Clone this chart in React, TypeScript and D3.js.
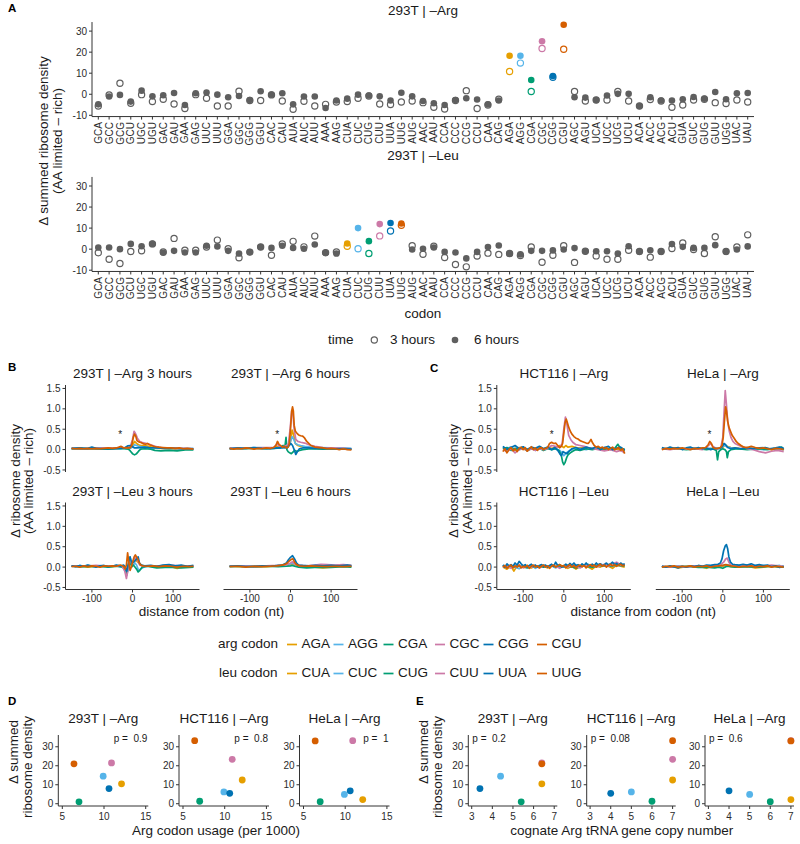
import React from "react";
import * as d3 from "d3";

// ---------------- DATA ----------------
const codons = ["GCA","GCC","GCG","GCU","UGC","UGU","GAC","GAU","GAA","GAG","UUC","UUU","GGA","GGC","GGG","GGU","CAC","CAU","AUA","AUC","AUU","AAA","AAG","CUA","CUC","CUG","CUU","UUA","UUG","AUG","AAC","AAU","CCA","CCC","CCG","CCU","CAA","CAG","AGA","AGG","CGA","CGC","CGG","CGU","AGC","AGU","UCA","UCC","UCG","UCU","ACA","ACC","ACG","ACU","GUA","GUC","GUG","GUU","UGG","UAC","UAU"];
const argCodons = ["AGA","AGG","CGA","CGC","CGG","CGU"];
const leuCodons = ["CUA","CUC","CUG","CUU","UUA","UUG"];
const codonColors = ["#E69F00","#56B4E9","#009E73","#CC79A7","#0072B2","#D55E00"];
const timeLabels = ["3 hours","6 hours"];

// panel A: summed density change per codon (293T)
const argStarv3h = [-5.6,-0.3,5.2,-4.3,-0.2,-3.5,-2.4,-4.6,-6.8,-0.2,-1.9,-5.6,-5.6,1.4,-3.0,-3.0,-0.3,-3.2,-7.1,-3.3,-5.6,-4.8,-3.7,-3.5,-1.9,-0.8,-4.6,-4.9,-3.7,-3.2,-4.0,-6.2,-7.0,-3.0,1.7,-6.8,-5.1,-2.4,10.8,14.8,1.3,21.7,8.1,21.4,1.3,-3.2,-2.7,-2.7,1.3,-3.2,-5.6,-2.5,-3.2,-6.2,-5.1,-2.7,-2.4,-4.0,-4.4,-2.7,-3.7];
const argStarv6h = [-4.8,-1.1,-0.3,-3.5,1.7,-1.0,-0.5,0.6,-5.1,0.5,0.8,-0.2,-1.4,-0.8,-2.7,1.4,-0.2,0.5,-4.8,-1.1,-1.1,-6.5,-3.0,-2.1,-0.2,-0.6,-1.0,-3.0,0.7,-1.0,-3.2,-4.3,-5.1,-2.7,-1.9,-2.5,-4.8,-3.0,18.3,18.3,6.8,25.2,8.7,33.0,-1.4,-1.6,-2.7,-0.6,0.2,0.2,-5.6,-1.4,-3.0,-3.0,-2.4,-1.3,-2.1,1.1,-2.4,0.5,0.6];
const leuStarv3h = [-1.7,-4.8,-6.8,-1.1,-0.8,2.5,-1.3,5.1,-0.5,-0.5,1.0,4.3,0.2,-4.1,-1.4,1.0,-2.9,2.5,3.7,1.1,6.2,-1.7,-1.3,1.4,0.2,-2.1,6.3,8.6,11.3,1.6,-2.4,1.4,-4.0,-7.3,-8.4,-3.3,-1.9,-2.5,-2.1,-3.0,1.0,-6.2,-2.9,1.6,-6.3,-1.0,-3.2,-4.8,-4.8,-0.5,-1.1,-3.8,-1.1,0.3,2.9,-0.2,-2.1,5.9,-1.1,1.0,6.8];
const leuStarv6h = [0.8,0.8,0.0,2.5,1.4,2.5,-1.7,-0.8,-1.6,-1.6,1.6,1.3,-0.8,-2.1,-1.4,1.0,0.6,1.6,0.6,0.2,2.2,-1.7,-2.1,2.7,10.0,3.8,11.9,12.4,12.2,-0.2,0.2,0.8,-1.3,-1.6,-4.4,-1.3,1.0,1.7,-2.1,-2.5,-0.8,-0.8,-0.6,-0.2,0.5,-1.0,-1.0,-1.0,-2.1,1.4,-1.1,-0.5,-1.1,2.4,1.1,0.6,0.6,1.9,-1.1,-0.2,1.3];

// panels B/C: ribosome density profiles, [distance nt, delta density], one list per codon (in codon order)
const prof293T_Arg3h = [
  [[-150,.02],[-130,.03],[-110,.02],[-90,.03],[-70,.02],[-50,.03],[-35,.04],[-25,.05],[-15,.03],[-5,.05],[0,.1],[5,.2],[10,.15],[15,.12],[20,.1],[30,.1],[40,.08],[50,.05],[70,.03],[90,.02],[110,.03],[130,.02],[150,.01]],
  [[-150,.03],[-120,.02],[-90,.04],[-60,.03],[-40,.03],[-20,.03],[-5,.03],[0,.06],[5,.12],[10,.1],[15,.08],[25,.07],[40,.05],[60,.04],[80,.03],[100,.04],[120,.03],[150,.03]],
  [[-150,.02],[-120,.01],[-90,.02],[-60,.01],[-40,.02],[-20,.02],[-10,.01],[-5,-.04],[0,-.1],[5,-.13],[10,-.1],[15,-.04],[20,.01],[30,.02],[45,.01],[55,-.02],[70,-.03],[90,-.02],[110,-.03],[130,-.01],[150,-.01]],
  [[-150,.03],[-120,.02],[-90,.03],[-60,.04],[-40,.03],[-30,.06],[-20,.04],[-10,.05],[-5,.08],[0,.25],[4,.45],[8,.38],[12,.28],[18,.2],[25,.17],[35,.15],[45,.12],[55,.08],[70,.05],[90,.04],[110,.03],[130,.03],[150,.02]],
  [[-150,.03],[-130,.04],[-110,.03],[-100,.06],[-90,.03],[-70,.02],[-50,.02],[-30,.03],[-20,.04],[-12,.09],[-5,.1],[0,.07],[5,.04],[10,.04],[20,.05],[30,.06],[40,.05],[60,.04],[80,.03],[100,.03],[120,.02],[140,.02],[150,.01]],
  [[-150,.03],[-140,.02],[-130,.03],[-120,.02],[-110,.03],[-100,.02],[-90,.03],[-80,.02],[-70,.03],[-60,.04],[-50,.03],[-40,.04],[-33,.06],[-28,.08],[-24,.05],[-18,.04],[-12,.05],[-6,.04],[-2,.1],[2,.3],[5,.38],[8,.33],[11,.22],[14,.2],[18,.18],[22,.17],[27,.14],[32,.13],[37,.15],[42,.12],[47,.1],[52,.08],[58,.07],[65,.06],[75,.05],[85,.04],[95,.04],[105,.03],[115,.04],[125,.02],[135,.03],[150,.01]],
];
const prof293T_Arg6h = [
  [[-150,.03],[-120,.02],[-90,.04],[-60,.03],[-40,.05],[-30,.08],[-20,.05],[-10,.08],[-5,.1],[0,.2],[4,.48],[8,.35],[12,.15],[18,.1],[25,.08],[35,.06],[50,.04],[70,.03],[100,.02],[130,.02],[150,.01]],
  [[-150,.04],[-120,.03],[-90,.05],[-60,.04],[-40,.04],[-20,.05],[-10,.06],[-5,.1],[0,.2],[4,.32],[8,.25],[12,.15],[18,.12],[25,.1],[35,.08],[50,.06],[70,.05],[100,.04],[130,.04],[150,.03]],
  [[-150,.02],[-120,.02],[-90,.03],[-60,.02],[-40,.03],[-25,.04],[-18,.1],[-14,.05],[-11,.3],[-9,.0],[-6,-.05],[-2,-.08],[2,-.1],[6,-.06],[10,-.02],[15,-.04],[20,-.03],[30,.0],[50,.02],[80,.01],[110,.02],[150,.01]],
  [[-150,.03],[-120,.03],[-90,.04],[-60,.05],[-40,.05],[-33,.15],[-28,.08],[-20,.06],[-10,.1],[-5,.15],[-1,.5],[3,.95],[6,.9],[9,.5],[13,.25],[18,.2],[25,.18],[35,.16],[45,.12],[60,.08],[80,.05],[100,.04],[130,.03],[150,.02]],
  [[-150,.02],[-130,.04],[-110,.03],[-90,.05],[-70,.03],[-50,.02],[-30,.04],[-15,.05],[-8,.05],[-3,.1],[1,.15],[5,.1],[9,.0],[13,-.12],[17,-.05],[22,.02],[30,.04],[45,.04],[60,.03],[80,.03],[100,.02],[120,.02],[150,.01]],
  [[-150,.03],[-140,.01],[-130,.03],[-120,.02],[-110,.04],[-100,.03],[-90,.01],[-80,.03],[-70,.02],[-60,.04],[-50,.03],[-42,.05],[-36,.1],[-32,.2],[-28,.12],[-24,.1],[-20,.06],[-15,.08],[-10,.04],[-6,.06],[-3,.15],[0,.5],[3,.95],[5,1.05],[7,.95],[9,.6],[12,.45],[16,.4],[20,.36],[25,.34],[30,.33],[35,.28],[40,.2],[45,.15],[50,.1],[55,.08],[60,.06],[70,.05],[80,.04],[90,.02],[100,.03],[110,.02],[120,.0],[130,.02],[140,.0],[150,-.01]],
];
const prof293T_Leu3h = [
  [[-150,.02],[-130,.03],[-110,.0],[-90,.02],[-70,.03],[-50,.01],[-35,.03],[-25,.02],[-18,-.05],[-14,-.1],[-10,.05],[-6,.2],[-2,.05],[2,.15],[6,.2],[10,.15],[15,.1],[20,.05],[30,.02],[50,.03],[70,.0],[90,.02],[110,-.03],[130,.02],[150,.0]],
  [[-150,.03],[-130,.0],[-110,.04],[-90,.02],[-70,.03],[-50,.02],[-35,.04],[-25,.02],[-18,-.1],[-14,-.2],[-10,.0],[-6,.25],[-2,.05],[2,.05],[6,.1],[10,.05],[15,-.08],[20,-.05],[28,.0],[40,.03],[60,.02],[80,.04],[100,.02],[120,.03],[150,.02]],
  [[-150,.02],[-120,.01],[-90,.02],[-60,.0],[-40,.02],[-25,.0],[-18,-.05],[-14,-.15],[-10,.0],[-6,.15],[-2,.0],[2,.05],[6,.0],[10,-.05],[14,-.12],[18,-.08],[24,.0],[35,.02],[60,-.02],[90,.0],[120,-.02],[150,.0]],
  [[-150,.03],[-120,.02],[-90,.04],[-60,.02],[-40,.03],[-25,.02],[-19,-.1],[-15,-.28],[-11,-.05],[-7,.2],[-3,.1],[1,.1],[5,.2],[9,.25],[13,.15],[18,.05],[25,.02],[40,.03],[70,.02],[100,.04],[130,.02],[150,.03]],
  [[-150,.03],[-140,.01],[-130,.04],[-120,.02],[-110,.05],[-100,.02],[-90,.0],[-80,.03],[-70,.04],[-60,.01],[-50,.02],[-40,.05],[-30,.02],[-22,.05],[-18,.0],[-14,-.1],[-10,.1],[-6,.25],[-2,.1],[2,.12],[6,.15],[10,.2],[14,.25],[17,.1],[22,.05],[30,.03],[45,.04],[60,.02],[75,.05],[90,.06],[105,.03],[120,.05],[135,.02],[150,.04]],
  [[-150,.01],[-140,.02],[-130,.0],[-120,.03],[-110,.01],[-100,.03],[-90,.02],[-80,.0],[-70,.03],[-60,.02],[-50,.03],[-40,.02],[-30,.05],[-22,.02],[-18,-.05],[-15,.05],[-12,.35],[-9,.1],[-6,-.08],[-3,.0],[1,.15],[4,.25],[7,.3],[10,.25],[13,.2],[16,.12],[20,.05],[25,.03],[35,.02],[50,.03],[65,.01],[80,.03],[95,.02],[110,.0],[125,.02],[140,.01],[150,.02]],
];
const prof293T_Leu6h = [
  [[-150,.02],[-120,.01],[-90,.02],[-60,.01],[-30,.03],[-10,.04],[0,.06],[5,.08],[10,.05],[20,.03],[40,.02],[60,.0],[80,-.02],[100,.0],[120,.02],[150,.01]],
  [[-150,.03],[-120,.02],[-90,.02],[-60,.03],[-30,.03],[-10,.05],[0,.08],[5,.1],[10,.07],[20,.03],[40,.02],[70,.04],[100,.03],[130,.05],[150,.04]],
  [[-150,.01],[-120,.02],[-90,.0],[-60,.02],[-30,.01],[-10,.02],[0,.03],[5,.04],[10,.02],[20,.0],[40,-.02],[70,.0],[100,-.01],[130,.01],[150,.0]],
  [[-150,.02],[-120,.03],[-90,.01],[-60,.03],[-30,.04],[-10,.06],[0,.1],[5,.13],[10,.08],[20,.04],[40,.03],[60,.05],[75,.07],[90,.06],[110,.05],[130,.06],[150,.04]],
  [[-150,.02],[-130,.03],[-110,.01],[-90,.02],[-70,.03],[-50,.02],[-30,.04],[-20,.05],[-10,.1],[-5,.18],[0,.24],[5,.28],[10,.2],[15,.1],[20,.05],[30,.04],[45,.03],[60,.04],[80,.03],[100,.04],[120,.03],[140,.05],[150,.03]],
  [[-150,.01],[-130,.02],[-110,.0],[-90,.02],[-70,.01],[-50,.02],[-35,.03],[-25,.04],[-15,.06],[-8,.1],[-3,.15],[2,.19],[6,.2],[10,.12],[15,.06],[22,.03],[35,.02],[50,.03],[70,.02],[90,.01],[110,.02],[130,.01],[150,.02]],
];
const profHCT116_Arg = [
  [[-150,.05],[-140,.0],[-130,.03],[-120,-.02],[-110,.05],[-100,.02],[-90,-.02],[-80,.03],[-70,.0],[-60,.04],[-50,.02],[-40,.05],[-30,.03],[-20,.05],[-10,.1],[-5,.08],[0,.05],[5,.1],[10,.06],[20,.08],[30,.05],[45,.04],[60,.03],[75,.02],[90,.04],[105,.0],[120,.03],[135,.0],[150,-.02]],
  [[-150,.06],[-140,.02],[-130,.07],[-120,.0],[-110,.04],[-100,.06],[-90,.01],[-80,.05],[-70,-.02],[-60,.04],[-50,.02],[-40,.05],[-30,.0],[-20,.03],[-10,-.02],[-5,-.08],[0,-.15],[5,-.1],[10,-.05],[15,-.02],[25,.02],[40,.03],[55,.0],[70,.04],[85,.02],[100,.05],[115,.0],[130,.04],[145,.02],[150,.0]],
  [[-150,.02],[-140,.05],[-130,-.02],[-120,.03],[-110,.0],[-100,.04],[-90,-.03],[-80,.02],[-70,.0],[-60,.03],[-50,-.02],[-40,.02],[-30,.0],[-20,.02],[-12,-.02],[-6,-.15],[-3,-.3],[0,-.37],[3,-.32],[7,-.2],[11,-.12],[16,-.08],[22,-.04],[30,.0],[40,-.02],[55,.02],[70,.0],[85,.03],[100,.0],[115,.04],[125,.02],[133,.13],[138,.05],[145,.02],[150,.0]],
  [[-150,.0],[-140,-.05],[-130,.02],[-120,-.08],[-110,.0],[-100,.03],[-90,-.03],[-80,.02],[-70,-.02],[-60,.03],[-50,.0],[-40,.02],[-30,.1],[-20,.08],[-10,.05],[-4,.15],[0,.5],[4,.8],[8,.6],[12,.35],[17,.25],[22,.18],[30,.12],[40,.1],[50,.08],[60,.05],[70,.03],[85,.0],[100,-.03],[115,.0],[130,-.05],[140,-.02],[150,-.08]],
  [[-150,.08],[-140,.0],[-130,.05],[-120,.1],[-110,.02],[-100,.07],[-90,.0],[-80,.06],[-70,.03],[-60,.08],[-50,.02],[-40,.06],[-30,.0],[-22,.05],[-15,-.02],[-10,-.1],[-6,-.15],[-2,-.05],[3,-.08],[8,-.1],[14,-.03],[20,.02],[30,.05],[40,.0],[55,.06],[70,.02],[80,.07],[90,.0],[100,.05],[110,.08],[120,.0],[130,.03],[140,.06],[150,-.02]],
  [[-150,-.05],[-145,.02],[-140,-.08],[-135,.0],[-130,.05],[-125,-.03],[-120,.02],[-115,-.05],[-110,.03],[-105,.06],[-100,.0],[-95,.05],[-90,-.04],[-85,.02],[-80,.07],[-75,.0],[-70,.04],[-65,-.02],[-60,.03],[-55,.05],[-50,.0],[-45,.03],[-40,.05],[-35,.15],[-30,.18],[-25,.15],[-20,.16],[-15,.1],[-10,.05],[-6,.08],[-3,.15],[0,.4],[3,.65],[6,.75],[9,.65],[12,.55],[16,.45],[20,.38],[25,.32],[30,.28],[35,.26],[40,.22],[45,.2],[50,.18],[55,.16],[60,.15],[64,.2],[67,.25],[70,.18],[75,.1],[80,.06],[85,.08],[90,.04],[95,.06],[100,.02],[105,.05],[110,.0],[115,.03],[120,.06],[125,.0],[130,.02],[135,.05],[140,-.02],[145,.02],[150,-.1]],
];
const profHeLa_Arg = [
  [[-150,.02],[-120,.03],[-90,.01],[-60,.03],[-40,.02],[-20,.03],[-10,.04],[0,.05],[5,.12],[10,.08],[20,.05],[40,.03],[70,.02],[100,.03],[130,.01],[150,.02]],
  [[-150,.03],[-130,.01],[-110,.04],[-90,.02],[-70,.04],[-50,.02],[-30,.03],[-15,.02],[-5,.05],[5,.1],[12,.06],[25,.03],[45,.02],[70,.03],[100,.0],[120,.02],[150,.0]],
  [[-150,.01],[-120,.03],[-90,.0],[-60,.02],[-40,.0],[-25,.02],[-16,-.02],[-13,-.25],[-10,-.05],[-5,.0],[0,.02],[5,.0],[9,-.05],[11,-.2],[14,-.05],[20,.0],[35,.02],[60,.0],[90,.02],[110,.0],[130,.03],[145,.06],[150,.0]],
  [[-150,.02],[-130,.0],[-110,.03],[-90,.01],[-70,.02],[-50,.0],[-35,.1],[-30,.15],[-25,.08],[-15,.02],[-5,.05],[0,.3],[3,.9],[6,1.45],[9,1.1],[12,.7],[16,.45],[20,.3],[25,.2],[30,.15],[40,.1],[50,.06],[60,.02],[75,.0],[90,-.05],[105,-.08],[120,-.04],[135,-.02],[150,-.05]],
  [[-150,.05],[-140,.02],[-130,.06],[-120,.03],[-110,.05],[-100,.0],[-90,.04],[-80,.06],[-70,.02],[-60,.05],[-50,.02],[-40,.04],[-30,.0],[-20,.03],[-10,.02],[-3,.05],[3,.15],[7,.12],[12,.05],[20,.02],[30,.04],[45,.02],[60,.05],[75,.02],[90,.04],[105,.05],[115,.02],[130,.04],[140,.06],[150,.03]],
  [[-150,.0],[-140,.03],[-130,.01],[-120,.03],[-110,.02],[-100,.04],[-90,.02],[-80,.0],[-70,.03],[-60,.02],[-50,.04],[-42,.05],[-36,.12],[-32,.2],[-28,.15],[-24,.05],[-18,.02],[-12,.03],[-6,.05],[-2,.1],[1,.3],[4,.7],[7,1.05],[9,.95],[12,.7],[15,.55],[19,.45],[23,.35],[28,.28],[33,.2],[38,.15],[45,.1],[52,.06],[60,.05],[70,.08],[80,.05],[90,.03],[100,.04],[110,.02],[120,.0],[130,.03],[140,.02],[150,.0]],
];
const profHCT116_Leu = [
  [[-150,.0],[-140,-.05],[-130,.02],[-123,-.1],[-118,-.02],[-110,.03],[-100,.0],[-90,.04],[-80,-.02],[-70,.03],[-60,.0],[-50,.04],[-40,-.02],[-30,.03],[-20,.0],[-10,.05],[0,.02],[10,-.03],[20,.02],[30,-.05],[40,.02],[50,.05],[60,.0],[70,-.05],[80,.03],[90,.0],[100,.05],[110,.02],[120,-.03],[130,.05],[140,.02],[150,.0]],
  [[-150,.05],[-140,-.02],[-130,.04],[-120,.0],[-110,-.04],[-100,.03],[-90,.0],[-80,.05],[-70,-.03],[-60,.02],[-50,.05],[-40,.0],[-30,.03],[-20,-.02],[-10,.04],[0,.0],[10,.05],[20,.02],[30,.06],[40,.0],[50,.04],[60,.07],[70,.02],[80,.05],[90,.08],[100,.03],[110,.06],[120,.02],[130,.07],[140,.04],[150,.05]],
  [[-150,.02],[-130,.0],[-110,.03],[-90,-.02],[-70,.02],[-50,.0],[-30,.03],[-10,.0],[10,.02],[30,-.02],[50,.03],[70,.0],[90,.04],[110,.02],[130,.05],[150,.03]],
  [[-150,.0],[-140,.04],[-130,-.03],[-120,.02],[-110,.05],[-100,-.02],[-90,.02],[-80,.0],[-70,.04],[-60,-.02],[-50,.03],[-40,.0],[-30,.05],[-20,.02],[-10,-.03],[0,.03],[10,.0],[20,.05],[30,.02],[40,-.02],[50,.04],[60,.02],[70,.06],[80,.0],[90,.04],[100,.07],[110,.02],[120,.08],[130,.12],[140,.05],[150,.06]],
  [[-150,.05],[-145,.0],[-140,.08],[-135,.03],[-130,.06],[-125,.02],[-120,.1],[-115,.05],[-110,.14],[-105,.08],[-100,.03],[-95,.06],[-90,.0],[-85,.04],[-80,.07],[-75,.02],[-70,.05],[-65,.0],[-60,.04],[-55,.06],[-50,.02],[-45,.05],[-40,.0],[-35,.04],[-30,.07],[-25,.02],[-20,.12],[-15,.04],[-10,.06],[-5,.0],[0,.03],[5,.07],[10,.03],[15,.09],[20,.05],[25,.1],[30,.03],[35,.06],[40,.02],[45,.08],[50,.04],[55,.1],[60,.05],[65,.03],[70,.07],[75,.04],[80,.1],[85,.05],[90,.08],[95,.03],[100,.06],[105,.1],[110,.05],[115,.08],[120,.12],[125,.06],[130,.09],[135,.05],[140,.1],[145,.06],[150,.08]],
  [[-150,.0],[-145,.04],[-140,-.03],[-135,.02],[-130,.05],[-125,-.02],[-120,.03],[-115,.0],[-110,.05],[-105,-.02],[-100,.02],[-95,.0],[-90,.04],[-85,-.03],[-80,.02],[-75,.05],[-70,.0],[-65,.03],[-60,-.02],[-55,.02],[-50,.05],[-45,.0],[-40,.03],[-35,-.03],[-30,.02],[-25,.05],[-20,.0],[-15,.03],[-10,.06],[-5,.02],[0,.04],[5,-.02],[10,.03],[15,.06],[20,.0],[25,.04],[30,-.02],[35,.03],[40,.05],[45,.01],[50,.04],[55,-.02],[60,.03],[65,.06],[70,.02],[75,.05],[80,.0],[85,.04],[90,.07],[95,.02],[100,.05],[105,.0],[110,.04],[115,.07],[120,.03],[125,.06],[130,.02],[135,.05],[140,.07],[145,.03],[150,.05]],
];
const profHeLa_Leu = [
  [[-150,.0],[-130,.02],[-110,-.02],[-90,.01],[-70,.03],[-50,.0],[-40,-.03],[-30,.02],[-10,.0],[0,.02],[10,.04],[20,.01],[40,.0],[60,.02],[80,-.02],[100,.0],[120,.02],[140,.0],[150,.01]],
  [[-150,.02],[-130,.0],[-110,.03],[-90,.0],[-70,.02],[-50,.03],[-30,.0],[-10,.02],[0,.04],[10,.06],[20,.03],[40,.02],[60,.04],[80,.02],[100,.05],[120,.02],[140,.04],[150,.01]],
  [[-150,.01],[-120,.0],[-90,.02],[-60,-.01],[-40,.0],[-20,-.02],[-10,.0],[0,-.03],[10,.02],[30,.0],[60,.01],[90,.0],[120,.02],[150,.0]],
  [[-150,.02],[-130,.0],[-110,.02],[-90,.0],[-70,.03],[-50,.02],[-30,.03],[-15,.04],[-5,.06],[2,.12],[7,.2],[11,.22],[15,.12],[20,.05],[30,.03],[45,.02],[60,.04],[80,.03],[100,.02],[120,.05],[135,.03],[150,.02]],
  [[-150,.02],[-140,.0],[-130,.03],[-120,.01],[-110,-.02],[-100,.02],[-90,.0],[-80,.03],[-70,.01],[-60,.04],[-50,.02],[-40,.05],[-30,.04],[-20,.06],[-12,.07],[-6,.1],[-2,.2],[2,.4],[6,.52],[9,.55],[12,.45],[15,.25],[19,.12],[24,.07],[30,.06],[40,.05],[50,.07],[60,.05],[70,.08],[80,.04],[90,.06],[100,.03],[110,.05],[120,.01],[130,.03],[140,-.01],[150,.02]],
  [[-150,.0],[-140,.02],[-130,.01],[-120,.03],[-110,.0],[-100,.02],[-90,.01],[-80,.03],[-70,.0],[-60,.02],[-50,.01],[-40,.03],[-30,.0],[-20,.02],[-10,.03],[0,.04],[6,.06],[12,.05],[20,.03],[30,.02],[40,.0],[50,.02],[60,.01],[70,.03],[80,.0],[90,.02],[100,.01],[110,.03],[120,.0],[130,.02],[140,.01],[150,.0]],
];

// panels D/E (order: AGA, AGG, CGA, CGC, CGG, CGU)
const argCodonUsage = [12.1, 9.9, 7.0, 10.9, 10.6, 6.4];
const tRNACopies293T = [6.4, 4.4, 5.4, 6.4, 3.4, 6.4];
const tRNACopies = [7, 5, 6, 7, 4, 7];
const density293T = [10.5, 14.5, 1.0, 21.5, 8.0, 21.0];
const densityHCT116 = [12.5, 6.2, 1.3, 23.4, 5.5, 33.2];
const densityHeLa = [2.2, 4.9, 1.1, 33.2, 6.8, 33.1];
const cellLines = ["293T", "HCT116", "HeLa"];
const pUsage = ["0.9", "0.8", "1"];
const pTRNA = ["0.2", "0.08", "0.6"];

// ---------------- RENDERING ----------------
const FONT = "'Liberation Sans', Arial, Helvetica, sans-serif";
const TXT = "#1a1a1a";
const TICKTXT = "#2b2b2b";
const AXC = "#333333";
const GRAY = "#5f5f5f";

function CodonPanel({ title, titleBase, y30, v3, v6, highlight }: any) {
  const x = d3.scalePoint<string>().domain(codons).range([98.3, 747.7]);
  const y = d3.scaleLinear().domain([-10, 30]).range([y30 + 84.2, y30]);
  const axY = y(-10.6);
  const top = y(34.3);
  const xl = 92, xr = 754;
  const col = (c: string) => {
    const i = highlight.indexOf(c);
    return i >= 0 ? codonColors[i] : GRAY;
  };
  return (
    <g>
      <text x={(xl + xr) / 2} y={titleBase} textAnchor="middle" fontSize={13.5} fill={TXT}>{title}</text>
      <line x1={xl} x2={xl} y1={top} y2={axY} stroke={AXC} strokeWidth={1} />
      <line x1={xl} x2={xr} y1={axY} y2={axY} stroke={AXC} strokeWidth={1} />
      {[-10, 0, 10, 20, 30].map((t) => (
        <g key={t}>
          <line x1={xl - 3} x2={xl} y1={y(t)} y2={y(t)} stroke={AXC} />
          <text x={xl - 5} y={y(t) + 3.6} textAnchor="end" fontSize={10} fill={TICKTXT}>{t}</text>
        </g>
      ))}
      {codons.map((c) => (
        <g key={c}>
          <line x1={x(c)} x2={x(c)} y1={axY} y2={axY + 3} stroke={AXC} />
          <text transform={`translate(${x(c)! + 3.6},${axY + 5.5}) rotate(-90)`} textAnchor="end" fontSize={10} fill={TICKTXT}>{c}</text>
        </g>
      ))}
      {codons.map((c, i) => (
        <circle key={"o" + c} cx={x(c)} cy={y(v3[i])} r={3.1} fill="none" stroke={col(c)} strokeWidth={1.2} />
      ))}
      {codons.map((c, i) => (
        <circle key={"f" + c} cx={x(c)} cy={y(v6[i])} r={3.3} fill={col(c)} />
      ))}
    </g>
  );
}

function ProfileFacet({ x0, y0, title, series, showY, showX, star }: any) {
  const w = 134, h = 87;
  const x = d3.scaleLinear().domain([-165, 165]).range([x0, x0 + w]);
  const y = d3.scaleLinear().domain([-0.55, 1.585]).range([y0 + h, y0]);
  const line = d3.line<number[]>().x((d) => x(d[0])).y((d) => y(d[1]));
  return (
    <g>
      <text x={x0 + w / 2} y={y0 - 7} textAnchor="middle" fontSize={13.5} fill={TXT}>{title}</text>
      {showY && (
        <g>
          <line x1={x0} x2={x0} y1={y0} y2={y0 + h} stroke={AXC} />
          {[-0.5, 0, 0.5, 1, 1.5].map((t) => (
            <g key={t}>
              <line x1={x0 - 3} x2={x0} y1={y(t)} y2={y(t)} stroke={AXC} />
              <text x={x0 - 5} y={y(t) + 3.6} textAnchor="end" fontSize={10} fill={TICKTXT}>{t.toFixed(1)}</text>
            </g>
          ))}
        </g>
      )}
      {showX && (
        <g>
          <line x1={x0} x2={x0 + w} y1={y0 + h} y2={y0 + h} stroke={AXC} />
          {[-100, 0, 100].map((t) => (
            <g key={t}>
              <line x1={x(t)} x2={x(t)} y1={y0 + h} y2={y0 + h + 3} stroke={AXC} />
              <text x={x(t)} y={y0 + h + 12.5} textAnchor="middle" fontSize={10} fill={TICKTXT}>{t}</text>
            </g>
          ))}
        </g>
      )}
      {series.map((s: number[][], i: number) => (
        <path key={i} d={line(s) || ""} fill="none" stroke={codonColors[i]} strokeWidth={1.7} strokeLinejoin="round" />
      ))}
      {star !== undefined && (
        <text x={x(star)} y={y(0.42) + 6} textAnchor="middle" fontSize={10} fill={TXT}>*</text>
      )}
    </g>
  );
}

function ScatterFacet({ x0, w, title, xs, ys, dom, ticks, p, pRight }: any) {
  const x = d3.scaleLinear().domain(dom).range([x0, x0 + w]);
  const y = d3.scaleLinear().domain([-1.2, 36.2]).range([806, 735]);
  return (
    <g>
      <text x={x0 + w / 2} y={723.3} textAnchor="middle" fontSize={13.5} fill={TXT}>{title}</text>
      <line x1={x0} x2={x0} y1={735} y2={806} stroke={AXC} />
      <line x1={x0} x2={x0 + w} y1={806} y2={806} stroke={AXC} />
      {[0, 10, 20, 30].map((t) => (
        <g key={t}>
          <line x1={x0 - 3} x2={x0} y1={y(t)} y2={y(t)} stroke={AXC} />
          <text x={x0 - 5} y={y(t) + 3.6} textAnchor="end" fontSize={10} fill={TICKTXT}>{t}</text>
        </g>
      ))}
      {ticks.map((t: number) => (
        <g key={t}>
          <line x1={x(t)} x2={x(t)} y1={806} y2={809} stroke={AXC} />
          <text x={x(t)} y={819.5} textAnchor="middle" fontSize={10} fill={TICKTXT}>{t}</text>
        </g>
      ))}
      <text x={pRight ? x0 + w - 1 : x0 + 4} y={741.5} textAnchor={pRight ? "end" : "start"} fontSize={10} fill={TXT} style={{ whiteSpace: "pre" }}>{"p =  " + p}</text>
      {xs.map((v: number, i: number) => (
        <circle key={i} cx={x(v)} cy={y(ys[i])} r={3.4} fill={codonColors[i]} />
      ))}
    </g>
  );
}

function YTitle({ lines }: any) {
  return (
    <g>
      {lines.map((l: any, i: number) => (
        <text key={i} transform={`translate(${l.x},${l.y}) rotate(-90)`} textAnchor="middle" fontSize={13.5} fill={TXT}>{l.t}</text>
      ))}
    </g>
  );
}

export default function App() {
  const densities = [density293T, densityHCT116, densityHeLa];
  const dX = [58.3, 179, 299.5];
  const eX = [468.3, 586.7, 705];
  const legendKeys = [287, 333.5, 383.5, 435, 483.5, 537];
  return (
    <svg width={800} height={844} style={{ position: "absolute", left: 0, top: 0 }} fontFamily={FONT}>
      <rect width={800} height={844} fill="#ffffff" />
      {/* Panel labels */}
      <text x={8} y={12} fontSize={11.5} fontWeight="bold" fill="#000">A</text>
      <text x={8} y={371} fontSize={11.5} fontWeight="bold" fill="#000">B</text>
      <text x={430} y={371.5} fontSize={11.5} fontWeight="bold" fill="#000">C</text>
      <text x={8} y={705} fontSize={11.5} fontWeight="bold" fill="#000">D</text>
      <text x={416} y={705} fontSize={11.5} fontWeight="bold" fill="#000">E</text>

      {/* Panel A */}
      <CodonPanel title="293T | –Arg" titleBase={15} y30={31.1} v3={argStarv3h} v6={argStarv6h} highlight={argCodons} />
      <CodonPanel title="293T | –Leu" titleBase={160} y30={186} v3={leuStarv3h} v6={leuStarv6h} highlight={leuCodons} />
      <YTitle lines={[{ x: 48, y: 141, t: "Δ summed ribosome density" }, { x: 61.5, y: 141, t: "(AA limited – rich)" }]} />
      <text x={423} y={318} textAnchor="middle" fontSize={13.5} fill={TXT}>codon</text>
      {/* time legend */}
      <text x={328} y={344} fontSize={13.5} fill={TXT}>time</text>
      <circle cx={374.3} cy={340} r={3.1} fill="none" stroke={GRAY} strokeWidth={1.2} />
      <text x={390} y={344} fontSize={13.5} fill={TXT}>{timeLabels[0]}</text>
      <circle cx={455} cy={340} r={3.3} fill={GRAY} />
      <text x={474} y={344} fontSize={13.5} fill={TXT}>{timeLabels[1]}</text>

      {/* Panel B */}
      <ProfileFacet x0={65.5} y0={385} title="293T | –Arg 3 hours" series={prof293T_Arg3h} showY star={-30} />
      <ProfileFacet x0={223.5} y0={385} title="293T | –Arg 6 hours" series={prof293T_Arg6h} star={-33} />
      <ProfileFacet x0={65.5} y0={502.5} title="293T | –Leu 3 hours" series={prof293T_Leu3h} showY showX />
      <ProfileFacet x0={223.5} y0={502.5} title="293T | –Leu 6 hours" series={prof293T_Leu6h} showX />
      <YTitle lines={[{ x: 20, y: 481, t: "Δ ribosome density" }, { x: 33.3, y: 481, t: "(AA limited – rich)" }]} />
      <text x={211.5} y={616} textAnchor="middle" fontSize={13.5} fill={TXT}>distance from codon (nt)</text>

      {/* Panel C */}
      <ProfileFacet x0={496.8} y0={385} title="HCT116 | –Arg" series={profHCT116_Arg} showY star={-30} />
      <ProfileFacet x0={655.8} y0={385} title="HeLa | –Arg" series={profHeLa_Arg} star={-33} />
      <ProfileFacet x0={496.8} y0={502.5} title="HCT116 | –Leu" series={profHCT116_Leu} showY showX />
      <ProfileFacet x0={655.8} y0={502.5} title="HeLa | –Leu" series={profHeLa_Leu} showX />
      <YTitle lines={[{ x: 458.3, y: 481, t: "Δ ribosome density" }, { x: 471.6, y: 481, t: "(AA limited – rich)" }]} />
      <text x={643.3} y={616} textAnchor="middle" fontSize={13.5} fill={TXT}>distance from codon (nt)</text>

      {/* codon legend */}
      <text x={218} y={648} fontSize={13.5} fill={TXT}>arg codon</text>
      <text x={219} y={677} fontSize={13.5} fill={TXT}>leu codon</text>
      {argCodons.map((c, i) => (
        <g key={c}>
          <line x1={legendKeys[i]} x2={legendKeys[i] + 10} y1={644.5} y2={644.5} stroke={codonColors[i]} strokeWidth={1.7} />
          <text x={legendKeys[i] + 14.5} y={648} fontSize={13.5} fill={TXT}>{c}</text>
        </g>
      ))}
      {leuCodons.map((c, i) => (
        <g key={c}>
          <line x1={legendKeys[i]} x2={legendKeys[i] + 10} y1={673.5} y2={673.5} stroke={codonColors[i]} strokeWidth={1.7} />
          <text x={legendKeys[i] + 14.5} y={677} fontSize={13.5} fill={TXT}>{c}</text>
        </g>
      ))}

      {/* Panel D */}
      {cellLines.map((cl, k) => (
        <ScatterFacet key={"d" + cl} x0={dX[k]} w={90} title={`${cl} | –Arg`} xs={argCodonUsage} ys={densities[k]} dom={[4.52, 15.31]} ticks={[5, 10, 15]} p={pUsage[k]} pRight />
      ))}
      <YTitle lines={[{ x: 18, y: 752, t: "Δ summed" }, { x: 31.5, y: 767, t: "ribosome density" }]} />
      <text x={216} y={835} textAnchor="middle" fontSize={13.5} fill={TXT}>Arg codon usage (per 1000)</text>

      {/* Panel E */}
      {cellLines.map((cl, k) => (
        <ScatterFacet key={"e" + cl} x0={eX[k]} w={89} title={`${cl} | –Arg`} xs={k === 0 ? tRNACopies293T : tRNACopies} ys={densities[k]} dom={[2.835, 7.15]} ticks={[3, 4, 5, 6, 7]} p={pTRNA[k]} />
      ))}
      <YTitle lines={[{ x: 428, y: 752, t: "Δ summed" }, { x: 442.4, y: 767, t: "ribosome density" }]} />
      <text x={621.7} y={835} textAnchor="middle" fontSize={13.5} fill={TXT}>cognate Arg tRNA gene copy number</text>
    </svg>
  );
}
